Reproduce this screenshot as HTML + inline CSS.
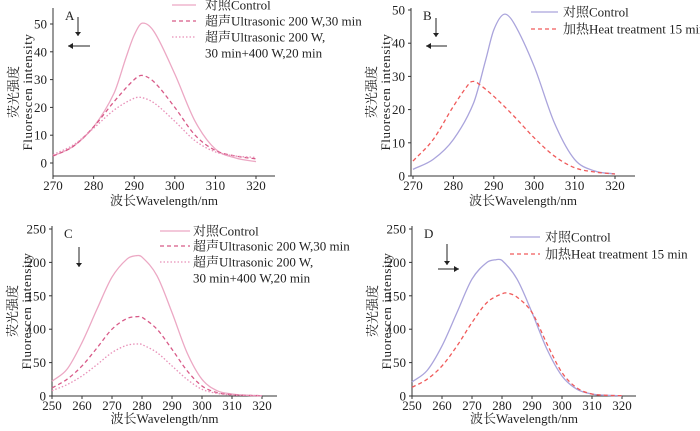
<!DOCTYPE html>
<html><head><meta charset="utf-8">
<style>
body{margin:0;background:#fff;}
svg text{font-family:"Liberation Serif","Noto Serif CJK SC",serif;fill:#222;}
</style></head>
<body>
<svg id="c" width="700" height="426" xmlns="http://www.w3.org/2000/svg"></svg>
<script>
// Panel A data
const aX=[270,275,280,285,288,290,292,295,300,305,310,315,320];
const aCtrl=[2.5,6,13,25,38,46,50.3,47,32,15,5,1.8,0.5];
const aX2=[270,275,280,285,290,292,295,300,305,310,315,320];
const aU200=[2.5,6,13,22,30,31.5,29,20,10,4.5,2.5,1.5];
const aU400=[3,6.5,12.5,19,23.3,23.5,21.5,15,8,4,2.5,2];
// Panel B data
const bX=[270,275,280,285,288,290,292.5,295,300,305,310,315,320];
const bCtrl=[2,5,11,22,35,44,48.7,46,33,16,5,1.5,0.6];
const bX2=[270,275,280,284,285,286,290,295,300,305,310,315,320];
const bHeat=[4.5,11,21,28,28.5,28,24,18,11.5,6,2.5,1.2,0.6];
// Panel C data
const cX=[250,255,260,265,270,275,278,280,285,290,295,300,305,310,315,320];
const cCtrl=[22,40,80,130,178,205,210,208,180,125,65,25,8,3,1,0.5];
const cX2=[250,255,260,265,270,275,279,280,285,290,295,300,305,310,315,320];
const cU200=[12,25,45,72,100,116,119,118,100,70,38,15,5,2,1,0.5];
const cU400=[8,17,30,47,65,76,78,77,65,45,25,10,4,1.5,1,0.5];
// Panel D data
const dX=[250,255,260,265,270,275,278,280,285,290,295,300,305,310,315,320];
const dCtrl=[21,38,75,125,175,200,204,203,175,125,70,30,10,3,1,0.5];
const dX2=[250,255,260,265,270,275,280,282,285,290,295,300,305,310,315,320];
const dHeat=[13,25,45,75,110,140,153,154,148,125,78,35,12,3,1,0.5];
const tickA=[0,10,20,30,40,50], tickC=[0,50,100,150,200,250];
const xTickA=[270,280,290,300,310,320], xTickC=[250,260,270,280,290,300,310,320];

const NS="http://www.w3.org/2000/svg";
const svg=document.getElementById('c');
function el(t,a,p){const e=document.createElementNS(NS,t);for(const k in a)e.setAttribute(k,a[k]);(p||svg).appendChild(e);return e;}
function txt(s,a,p){const e=el('text',a,p);e.textContent=s;return e;}
function smooth(pts){
  const n=pts.length,m=[];
  for(let i=0;i<n;i++){const a=pts[Math.max(0,i-1)],b=pts[Math.min(n-1,i+1)];m.push((b[1]-a[1])/(b[0]-a[0]));}
  let d='M'+pts[0][0]+','+pts[0][1];
  for(let i=0;i<n-1;i++){const p1=pts[i],p2=pts[i+1],h=(p2[0]-p1[0])/3;
    d+=' C'+(p1[0]+h)+','+(p1[1]+m[i]*h)+' '+(p2[0]-h)+','+(p2[1]-m[i+1]*h)+' '+p2[0]+','+p2[1];}
  return d;}

function panel(o){
  const g=el('g',{});
  
  
  const sx=v=>o.x0+(v-o.xmin)/(o.xmax-o.xmin)*(o.x1-o.x0);
  const sy=v=>o.y0-(v)/(o.ymax)*(o.y0-o.y1);
  const axis=el('path',{d:`M${o.ax},${o.ytop} L${o.ax},${o.abase} L${o.aend},${o.abase}`,stroke:'#333','stroke-width':1,fill:'none'},g);
  
  o.yt.forEach(v=>{const y=sy(v);el('line',{x1:o.ax-3,x2:o.ax,y1:y,y2:y,stroke:'#333'},g);
    const t=txt(v,{x:o.ax-6,y:y+4.5,'text-anchor':'end','font-size':13},g);});
  o.xt.forEach(v=>{const x=sx(v);el('line',{x1:x,x2:x,y1:o.abase,y2:o.abase+3,stroke:'#333'},g);
    const t=txt(v,{x:x,y:o.abase+14,'text-anchor':'middle','font-size':13},g);});
  const xt=txt('波长Wavelength/nm',{x:(o.ax+o.aend)/2,y:o.abase+o.tOff,'text-anchor':'middle','font-size':13},g);
  
  const cy=(o.ytop+o.abase)/2;
  const y1=txt('荧光强度',{x:0,y:0,'text-anchor':'middle','font-size':13,transform:`translate(${o.ax-35},${cy}) rotate(-90)`},g);
  
  const y2=txt('Fluorescen intensity',{x:0,y:0,'text-anchor':'middle','font-size':13,'letter-spacing':0.6,transform:`translate(${o.ax-21},${cy}) rotate(-90)`},g);
  
  const lb=txt(o.id,{x:o.ax+12,y:o.ytop+12,'font-size':13},g);
  
  o.series.forEach(s=>{
    const p=el('path',{d:smooth(s.x.map((v,i)=>[sx(v),sy(s.y[i])])),stroke:s.c,'stroke-width':1.3,fill:'none','stroke-dasharray':s.dash||''},g);
    
  });
  o.leg.forEach((l,i)=>{
    const ln=el('line',{x1:l.lx,x2:l.lx2,y1:l.y,y2:l.y,stroke:l.c,'stroke-width':1.3,'stroke-dasharray':l.dash||''},g);
    
    l.t.forEach((s,j)=>{const t=txt(s,{x:l.tx,y:l.y+4.5+j*16,'font-size':13},g);});
  });
  o.arrows.forEach(a=>{
    el('line',{x1:a[0],y1:a[1],x2:a[2],y2:a[3],stroke:'#222'},g);
    const dx=Math.sign(a[2]-a[0]),dy=Math.sign(a[3]-a[1]);
    let pts;
    if(dy) pts=`${a[2]-3},${a[3]-4*dy} ${a[2]+3},${a[3]-4*dy} ${a[2]},${a[3]}`;
    else pts=`${a[2]-5*dx},${a[3]-3} ${a[2]-5*dx},${a[3]+3} ${a[2]},${a[3]}`;
    const ar=el('polygon',{points:pts,fill:'#222'},g);
  });
}
const pinkC='#eca8c4',pinkD='#d85a88',pinkDot='#e890b8',lav='#aaa4dc',red='#f05a5a';
panel({id:'A',ax:53,ytop:8,abase:176,aend:275,tOff:29,x0:53,x1:256,xmin:270,xmax:320,y0:163,y1:24,ymax:50,yt:tickA,xt:xTickA,
 series:[{n:'control',x:aX,y:aCtrl,c:pinkC},{n:'ultrasonic-200w',x:aX2,y:aU200,c:pinkD,dash:'4,3'},{n:'ultrasonic-400w',x:aX2,y:aU400,c:pinkDot,dash:'1.5,2'}],
 leg:[{lx:172,lx2:196,tx:205,y:5,c:pinkC,t:['对照Control']},{lx:172,lx2:196,tx:205,y:21,c:pinkD,dash:'4,3',t:['超声Ultrasonic 200 W,30 min']},{lx:172,lx2:196,tx:205,y:37,c:pinkDot,dash:'1.5,2',t:['超声Ultrasonic 200 W,','30 min+400 W,20 min']}],
 arrows:[[78,17,78,36],[90,46,68,46]]});
panel({id:'B',ax:411,ytop:8,abase:176,aend:635,tOff:29,x0:413,x1:615,xmin:270,xmax:320,y0:176,y1:10,ymax:50,yt:tickA,xt:xTickA,
 series:[{n:'control',x:bX,y:bCtrl,c:lav},{n:'heat-treatment',x:bX2,y:bHeat,c:red,dash:'4,3'}],
 leg:[{lx:531,lx2:558,tx:563,y:12,c:lav,t:['对照Control']},{lx:531,lx2:558,tx:563,y:29,c:red,dash:'4,3',t:['加热Heat treatment 15 min']}],
 arrows:[[436,18,436,37],[447,46,426,46]]});
panel({id:'C',ax:52,ytop:226,abase:396,aend:277,tOff:27,x0:52,x1:262,xmin:250,xmax:320,y0:396,y1:229,ymax:250,yt:tickC,xt:xTickC,
 series:[{n:'control',x:cX,y:cCtrl,c:pinkC},{n:'ultrasonic-200w',x:cX2,y:cU200,c:pinkD,dash:'4,3'},{n:'ultrasonic-400w',x:cX2,y:cU400,c:pinkDot,dash:'1.5,2'}],
 leg:[{lx:160,lx2:190,tx:193,y:231,c:pinkC,t:['对照Control']},{lx:160,lx2:190,tx:193,y:246,c:pinkD,dash:'4,3',t:['超声Ultrasonic 200 W,30 min']},{lx:160,lx2:190,tx:193,y:262,c:pinkDot,dash:'1.5,2',t:['超声Ultrasonic 200 W,','30 min+400 W,20 min']}],
 arrows:[[79,247,79,267]]});
panel({id:'D',ax:412,ytop:226,abase:396,aend:636,tOff:27,x0:412,x1:622,xmin:250,xmax:320,y0:396,y1:229,ymax:250,yt:tickC,xt:xTickC,
 series:[{n:'control',x:dX,y:dCtrl,c:lav},{n:'heat-treatment',x:dX2,y:dHeat,c:red,dash:'4,3'}],
 leg:[{lx:510,lx2:540,tx:545,y:237,c:lav,t:['对照Control']},{lx:510,lx2:540,tx:545,y:254,c:red,dash:'4,3',t:['加热Heat treatment 15 min']}],
 arrows:[[447,244,447,265],[438,269,459,269]]});
</script>
</body></html>
